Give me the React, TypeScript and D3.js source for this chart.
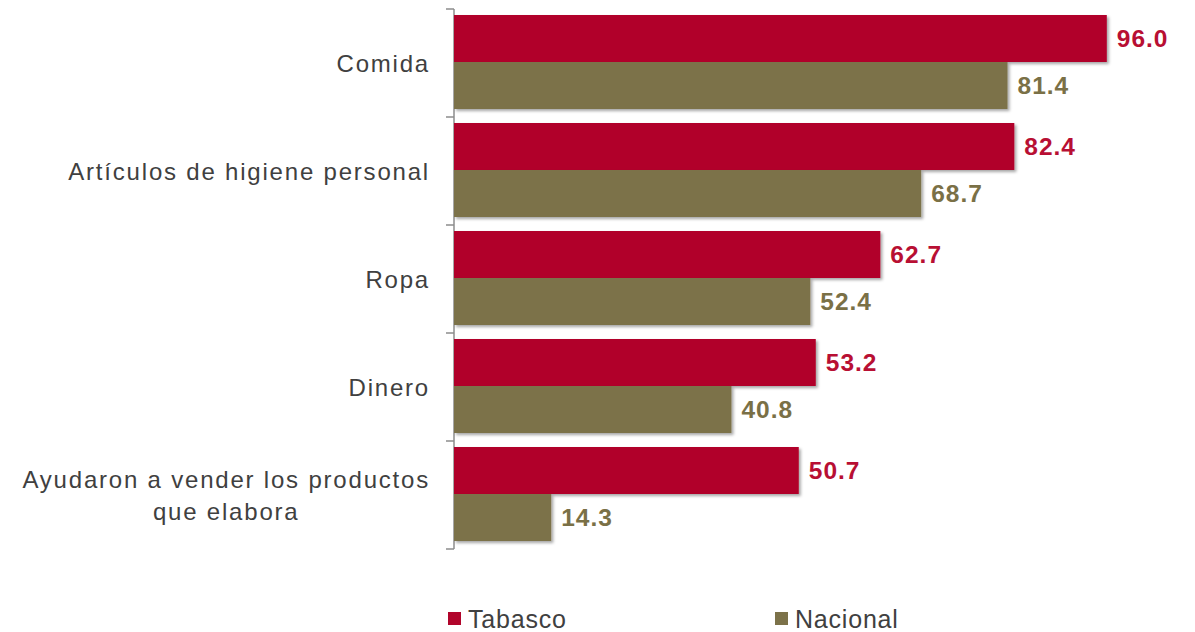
import React from 'react'
import * as d3 from 'd3'

const categories: string[][] = [
    ['Comida'],
    ['Artículos de higiene personal'],
    ['Ropa'],
    ['Dinero'],
    ['Ayudaron a vender los productos', 'que elabora'],
]
const seriesNames = ['Tabasco', 'Nacional']
const tabasco = [96.0, 82.4, 62.7, 53.2, 50.7]
const nacional = [81.4, 68.7, 52.4, 40.8, 14.3]

const barColors = ['#B1052B', '#7C7249']
const labelColors = ['#B80F33', '#7A7046']
const FONT = '"Liberation Sans", Arial, sans-serif'

const measure = (() => {
    let ctx: CanvasRenderingContext2D | null = null
    return (txt: string, size: number, spacing: number) => {
        if (!ctx) ctx = document.createElement('canvas').getContext('2d')
        if (!ctx) return txt.length * (size * 0.5 + spacing)
        ctx.font = `${size}px "Liberation Sans"`
        return ctx.measureText(txt).width + txt.length * spacing
    }
})()

export default function App() {
    const width = 1195
    const height = 632
    const axisX = 454
    const catSize = 24
    const catSpacing = 1.8

    const x = d3.scaleLinear().domain([0, 100]).range([axisX, axisX + 680])
    const keys = categories.map((c, i) => String(i))
    const y0 = d3.scaleBand<string>().domain(keys).range([9, 549])
    const y1 = d3.scaleBand<string>().domain(seriesNames).range([6, 100])
    const values = [tabasco, nacional]

    return (
        <svg width={width} height={height} style={{ position: 'absolute', left: 0, top: 0 }}>
            <defs>
                <filter id="shadow" x="-5%" y="-20%" width="110%" height="150%">
                    <feDropShadow dx="2" dy="2" stdDeviation="1.5" floodColor="#000" floodOpacity="0.35" />
                </filter>
            </defs>
            {/* axis */}
            <line x1={axisX} x2={axisX} y1={y0.range()[0]} y2={y0.range()[1]} stroke="#8c8c8c" strokeWidth={1.5} />
            {[...keys.map(k => y0(k)!), y0.range()[1]].map((t, i) => (
                <line key={`tick-${i}`} x1={axisX - 8} x2={axisX} y1={t} y2={t} stroke="#8c8c8c" strokeWidth={1.5} />
            ))}
            {keys.map((k, ci) => {
                const top = y0(k)!
                return (
                    <g key={`cat-${k}`}>
                        {seriesNames.map((s, si) => {
                            const v = values[si][ci]
                            const by = top + y1(s)!
                            return (
                                <g key={`bar-${k}-${s}`}>
                                    <rect x={x(0)} y={by} width={x(v) - x(0)} height={y1.bandwidth()}
                                          fill={barColors[si]} filter="url(#shadow)" />
                                    <text x={x(v) + 10} y={by + y1.bandwidth() / 2} dy="0.36em"
                                          fill={labelColors[si]} fontFamily={FONT} fontWeight="bold"
                                          fontSize={24.5} letterSpacing={1}>{v.toFixed(1)}</text>
                                </g>
                            )
                        })}
                    </g>
                )
            })}
            {categories.map((lines, ci) => {
                const cy = y0(keys[ci])! + y0.bandwidth() / 2
                const maxW = Math.max(...lines.map(l => measure(l, catSize, catSpacing)))
                const cx = 430 - maxW / 2
                const lh = 32
                return (
                    <text key={`lab-${ci}`} fontFamily={FONT} fontSize={catSize} letterSpacing={catSpacing}
                          fill="#404040" textAnchor="middle">
                        {lines.map((l, li) => (
                            <tspan key={li} x={cx} y={cy + (li - (lines.length - 1) / 2) * lh} dy="0.36em">{l}</tspan>
                        ))}
                    </text>
                )
            })}
            {/* legend */}
            {seriesNames.map((s, si) => {
                const lx = si === 0 ? 448 : 775
                return (
                    <g key={`leg-${s}`}>
                        <rect x={lx} y={612} width={13} height={13} fill={barColors[si]} />
                        <text x={lx + 20} y={619} dy="0.36em" fontFamily={FONT} fontSize={25}
                              letterSpacing={0.8} fill="#404040">{s}</text>
                    </g>
                )
            })}
        </svg>
    )
}
